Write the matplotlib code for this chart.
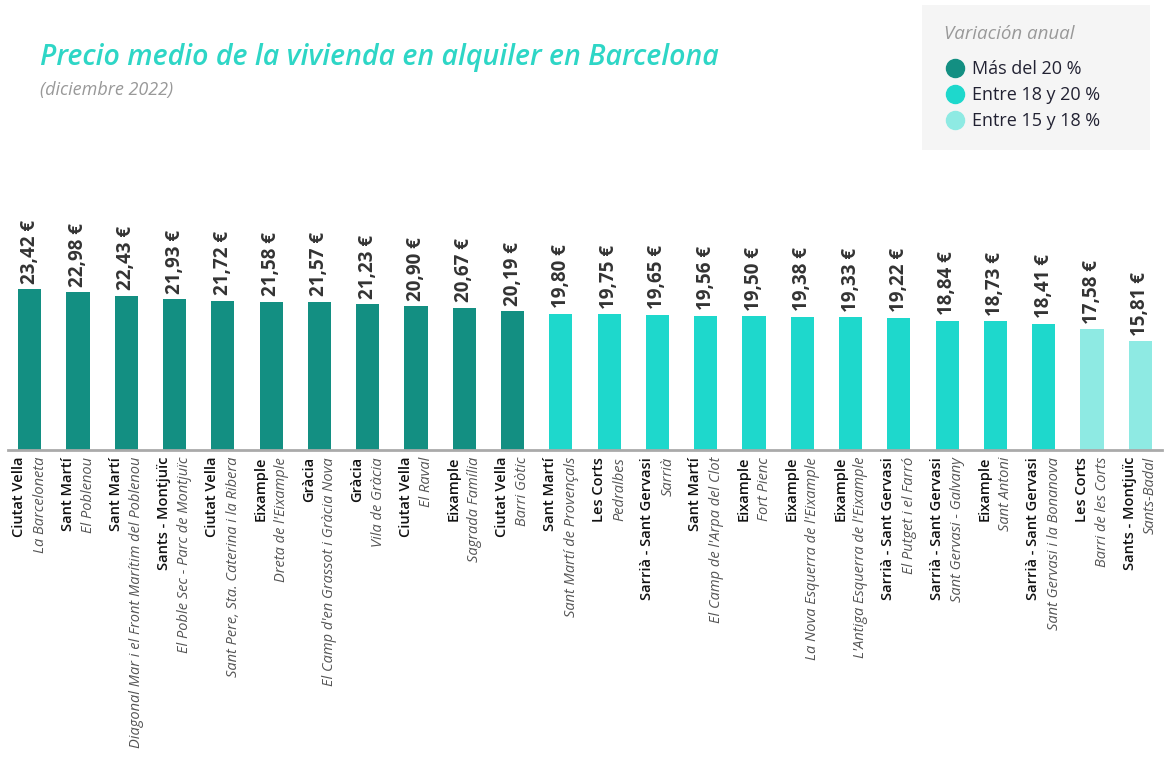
import matplotlib.pyplot as plt
from matplotlib.lines import Line2D
from matplotlib.patches import Rectangle

districts = ["Ciutat Vella", "Sant Martí", "Sant Martí", "Sants - Montjuïc", "Ciutat Vella",
             "Eixample", "Gràcia", "Gràcia", "Ciutat Vella", "Eixample", "Ciutat Vella",
             "Sant Martí", "Les Corts", "Sarrià - Sant Gervasi", "Sant Martí", "Eixample",
             "Eixample", "Eixample", "Sarrià - Sant Gervasi", "Sarrià - Sant Gervasi",
             "Eixample", "Sarrià - Sant Gervasi", "Les Corts", "Sants - Montjuïc"]
barrios = ["La Barceloneta", "El Poblenou", "Diagonal Mar i el Front Marítim del Poblenou",
           "El Poble Sec - Parc de Montjuïc", "Sant Pere, Sta. Caterina i la Ribera",
           "Dreta de l'Eixample", "El Camp d'en Grassot i Gràcia Nova", "Vila de Gràcia",
           "El Raval", "Sagrada Família", "Barri Gòtic", "Sant Martí de Provençals",
           "Pedralbes", "Sarrià", "El Camp de l'Arpa del Clot", "Fort Pienc",
           "La Nova Esquerra de l'Eixample", "L'Antiga Esquerra de l'Eixample",
           "El Putget i el Farró", "Sant Gervasi - Galvany", "Sant Antoni",
           "Sant Gervasi i la Bonanova", "Barri de les Corts", "Sants-Badal"]
precios = [23.42, 22.98, 22.43, 21.93, 21.72, 21.58, 21.57, 21.23, 20.90, 20.67, 20.19,
           19.80, 19.75, 19.65, 19.56, 19.50, 19.38, 19.33, 19.22, 18.84, 18.73, 18.41,
           17.58, 15.81]
# 0 = más del 20 %, 1 = entre 18 y 20 %, 2 = entre 15 y 18 %
grupo = [0] * 11 + [1] * 11 + [2] * 2

colores = ["#138f82", "#1ed8cc", "#8eeae3"]
legend_labels = ["Más del 20 %", "Entre 18 y 20 %", "Entre 15 y 18 %"]

plt.rcParams['font.family'] = ['Open Sans', 'DejaVu Sans']

W, H = 1167, 760
fig = plt.figure(figsize=(W / 100, H / 100), dpi=100)
ax = fig.add_axes([8 / W, 310 / H, 1154 / W, 250 / H])

x = list(range(len(precios)))
ax.bar(x, precios, width=0.48, color=[colores[g] for g in grupo], zorder=2)
ax.set_xlim(-0.45, len(precios) - 0.55)
ax.set_ylim(0, 36.4)

for xi, v in zip(x, precios):
    ax.annotate(f"{v:.2f} €".replace(".", ","), (xi, v), xytext=(0, 4),
                textcoords="offset points", rotation=90, ha="center", va="bottom",
                fontsize=13.5, fontweight="bold", color="#333333")

for s in ["top", "right", "left"]:
    ax.spines[s].set_visible(False)
ax.spines["bottom"].set_color("#aaaaaa")
ax.spines["bottom"].set_linewidth(2)
ax.set_yticks([])
ax.set_xticks(x)
ax.set_xticklabels([])
ax.tick_params(axis="x", length=0)

for xi, d, b in zip(x, districts, barrios):
    ax.annotate(d, (xi, 0), xytext=(-7.5, -5), textcoords="offset points",
                rotation=90, ha="center", va="top", fontsize=10.5, color="#111111",
                fontweight="semibold")
    ax.annotate(b, (xi, 0), xytext=(7.5, -5), textcoords="offset points",
                rotation=90, ha="center", va="top", fontsize=10.5, color="#555555",
                style="italic")

fig.text(40 / W, 1 - 58 / H, "Precio medio de la vivienda en alquiler en Barcelona",
         fontsize=20.5, style="italic", fontweight="semibold", color="#2ed6c6", va="center")
fig.text(40 / W, 1 - 90 / H, "(diciembre 2022)", fontsize=13, style="italic",
         color="#999999", va="center")

# legend background box
fig.patches.append(Rectangle((922 / W, 1 - 150 / H), 228 / W, 145 / H,
                             transform=fig.transFigure, facecolor="#f5f5f5",
                             edgecolor="none", zorder=0))

handles = [Line2D([], [], marker="o", linestyle="", markersize=13, color=c) for c in colores]
leg = fig.legend(handles, legend_labels, loc="upper left",
                 bbox_to_anchor=(930 / W, 1 - 11 / H), frameon=False,
                 title="Variación anual", alignment="left", fontsize=13,
                 handletextpad=0.3, labelspacing=0.45, borderpad=0.3,
                 handlelength=1.2)
leg.get_title().set_color("#999999")
leg.get_title().set_fontstyle("italic")
leg.get_title().set_fontsize(13.5)
leg._legend_box.sep = 12
for t in leg.get_texts():
    t.set_color("#222233")

fig.savefig("out.png", dpi=100)
